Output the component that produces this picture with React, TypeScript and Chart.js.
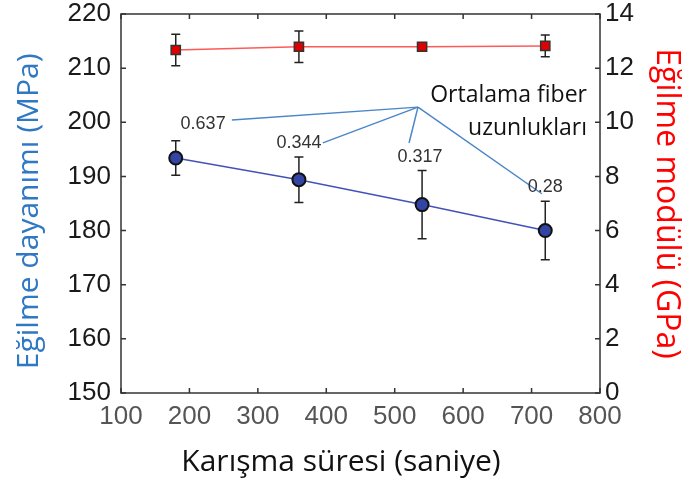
import React, { useEffect, useRef } from 'react';
import { Chart, registerables } from 'chart.js';

Chart.register(...registerables);

// ---- data ----
const mixingTime = [180, 360, 540, 720];
const strength = [193.4, 189.4, 184.8, 180.0];
const strengthErr = [3.2, 4.2, 6.3, 5.4];
const modulus = [12.67, 12.79, 12.79, 12.82];
const modulusErr = [0.58, 0.58, 0.15, 0.4];

const xTicks = [100, 200, 300, 400, 500, 600, 700, 800];
const leftTicks = [150, 160, 170, 180, 190, 200, 210, 220];
const rightTicks = [0, 2, 4, 6, 8, 10, 12, 14];

// annotation: average fibre lengths (data coordinates)
const fiberLengthLabels = ['0.637', '0.344', '0.317', '0.28'];
const fiberLabelX = [220, 360, 537, 720];
const fiberLabelY = [199.6, 196.1, 193.5, 188.0];
const leaderEndX = [262, 395, 521, 715];
const leaderEndY = [200.4, 196.2, 196.2, 186.8];
const leaderHubX = 534;
const leaderHubY = 202.8;
const noteLines = ['Ortalama fiber', 'uzunlukları'];
const noteX = 781;
const noteY = [204.9, 198.9];

const errorBarPlugin = {
  id: 'errorBars',
  beforeDatasetsDraw(chart: any) {
    const ctx = chart.ctx;
    const xs = chart.scales.x;
    ctx.save();
    ctx.strokeStyle = '#222';
    ctx.lineWidth = 1.5;
    const draw = (vals: number[], errs: number[], scale: any) => {
      mixingTime.forEach((t, i) => {
        const px = xs.getPixelForValue(t);
        const top = scale.getPixelForValue(vals[i] + errs[i]);
        const bot = scale.getPixelForValue(vals[i] - errs[i]);
        ctx.beginPath();
        ctx.moveTo(px, top);
        ctx.lineTo(px, bot);
        ctx.moveTo(px - 4.5, top);
        ctx.lineTo(px + 4.5, top);
        ctx.moveTo(px - 4.5, bot);
        ctx.lineTo(px + 4.5, bot);
        ctx.stroke();
      });
    };
    draw(strength, strengthErr, chart.scales.y);
    draw(modulus, modulusErr, chart.scales.y1);
    ctx.restore();
  },
};

const annotationPlugin = {
  id: 'fiberNotes',
  beforeDatasetsDraw(chart: any) {
    const ctx = chart.ctx;
    const xs = chart.scales.x;
    const ys = chart.scales.y;
    ctx.save();
    ctx.strokeStyle = '#4a86c8';
    ctx.lineWidth = 1.5;
    const hx = xs.getPixelForValue(leaderHubX);
    const hy = ys.getPixelForValue(leaderHubY);
    leaderEndX.forEach((x, i) => {
      ctx.beginPath();
      ctx.moveTo(hx, hy);
      ctx.lineTo(xs.getPixelForValue(x), ys.getPixelForValue(leaderEndY[i]));
      ctx.stroke();
    });
    ctx.fillStyle = '#333';
    ctx.font = '18px "Liberation Sans", Arial, sans-serif';
    ctx.textAlign = 'center';
    ctx.textBaseline = 'middle';
    fiberLengthLabels.forEach((lab, i) => {
      ctx.fillText(lab, xs.getPixelForValue(fiberLabelX[i]), ys.getPixelForValue(fiberLabelY[i]));
    });
    ctx.fillStyle = '#111';
    ctx.font = '23px "Open Sans", sans-serif';
    ctx.textAlign = 'right';
    noteLines.forEach((line, i) => {
      ctx.fillText(line, xs.getPixelForValue(noteX), ys.getPixelForValue(noteY[i]));
    });
    ctx.restore();
  },
};

const framePlugin = {
  id: 'frame',
  afterDatasetsDraw(chart: any) {
    const ctx = chart.ctx;
    const { left, right, top, bottom } = chart.chartArea;
    const xs = chart.scales.x;
    const ys = chart.scales.y;
    const y1 = chart.scales.y1;
    ctx.save();
    ctx.strokeStyle = '#333';
    ctx.lineWidth = 1.5;
    ctx.strokeRect(left, top, right - left, bottom - top);
    const len = 5;
    ctx.beginPath();
    xTicks.forEach((v) => {
      const px = xs.getPixelForValue(v);
      ctx.moveTo(px, bottom);
      ctx.lineTo(px, bottom - len);
      ctx.moveTo(px, top);
      ctx.lineTo(px, top + len);
    });
    leftTicks.forEach((v) => {
      const py = ys.getPixelForValue(v);
      ctx.moveTo(left, py);
      ctx.lineTo(left + len, py);
    });
    rightTicks.forEach((v) => {
      const py = y1.getPixelForValue(v);
      ctx.moveTo(right, py);
      ctx.lineTo(right - len, py);
    });
    ctx.stroke();
    ctx.restore();
  },
};

export default function App() {
  const ref = useRef<HTMLCanvasElement>(null);
  useEffect(() => {
    if (!ref.current) return;
    const chart = new Chart(ref.current, {
      type: 'scatter',
      data: {
        datasets: [
          {
            label: 'Eğilme dayanımı',
            data: mixingTime.map((t, i) => ({ x: t, y: strength[i] })),
            yAxisID: 'y',
            showLine: true,
            borderColor: '#4452b8',
            borderWidth: 1.5,
            pointStyle: 'circle',
            pointRadius: 6.5,
            pointBackgroundColor: '#3444a4',
            pointBorderColor: '#111',
            pointBorderWidth: 2,
          },
          {
            label: 'Eğilme modülü',
            data: mixingTime.map((t, i) => ({ x: t, y: modulus[i] })),
            yAxisID: 'y1',
            showLine: true,
            borderColor: '#ff5a5a',
            borderWidth: 1.5,
            pointStyle: 'rect',
            pointRadius: 6.5,
            pointBackgroundColor: '#e00000',
            pointBorderColor: '#333',
            pointBorderWidth: 1.5,
          },
        ] as any,
      },
      options: {
        animation: false,
        responsive: false,
        layout: { padding: { top: 14, left: 0, right: 0, bottom: 0 } },
        plugins: { legend: { display: false }, tooltip: { enabled: false } },
        scales: {
          x: {
            type: 'linear',
            position: 'bottom',
            min: xTicks[0],
            max: xTicks[xTicks.length - 1],
            afterBuildTicks: (s: any) => { s.ticks = xTicks.map((v) => ({ value: v })); },
            afterFit: (s: any) => { s.height = 95; s.paddingLeft = 0; s.paddingRight = 0; },
            grid: { display: false, drawTicks: false },
            border: { display: false },
            ticks: {
              maxRotation: 0,
              autoSkip: false,
              padding: 8,
              color: '#555',
              font: { family: '"Liberation Sans", Arial, sans-serif', size: 26 },
            },
            title: {
              display: true,
              text: 'Karışma süresi (saniye)     ',
              color: '#111',
              font: { family: '"Open Sans", sans-serif', size: 30 },
              padding: { top: 0, bottom: 8 },
            },
          },
          y: {
            type: 'linear',
            position: 'left',
            min: leftTicks[0],
            max: leftTicks[leftTicks.length - 1],
            afterBuildTicks: (s: any) => { s.ticks = leftTicks.map((v) => ({ value: v })); },
            afterFit: (s: any) => { s.width = 121; s.paddingTop = 0; s.paddingBottom = 0; },
            grid: { display: false, drawTicks: false },
            border: { display: false },
            ticks: {
              padding: 10,
              color: '#1a1a1a',
              font: { family: '"Liberation Sans", Arial, sans-serif', size: 26 },
            },
            title: {
              display: true,
              text: 'Eğilme dayanımı (MPa)  ',
              color: '#2f78c4',
              font: { family: '"Open Sans", sans-serif', size: 30 },
              padding: { top: 11, bottom: 0 },
            },
          },
          y1: {
            type: 'linear',
            position: 'right',
            min: rightTicks[0],
            max: rightTicks[rightTicks.length - 1],
            afterBuildTicks: (s: any) => { s.ticks = rightTicks.map((v) => ({ value: v })); },
            afterFit: (s: any) => { s.width = 85; s.paddingTop = 0; s.paddingBottom = 0; },
            grid: { display: false, drawTicks: false },
            border: { display: false },
            ticks: {
              padding: 5,
              color: '#1a1a1a',
              font: { family: '"Liberation Sans", Arial, sans-serif', size: 26 },
            },
            title: {
              display: true,
              text: 'Eğilme modülü (GPa)',
              color: '#ff0000',
              font: { family: '"Open Sans", sans-serif', size: 32 },
              padding: { top: 0, bottom: 0 },
            },
          },
        },
      } as any,
      plugins: [errorBarPlugin, annotationPlugin, framePlugin],
    });
    return () => chart.destroy();
  }, []);
  return (
    <div style={{ position: 'fixed', left: 0, top: 0, width: 685, height: 488, background: '#fff' }}>
      <canvas ref={ref} width={685} height={488} style={{ width: 685, height: 488 }} />
    </div>
  );
}
